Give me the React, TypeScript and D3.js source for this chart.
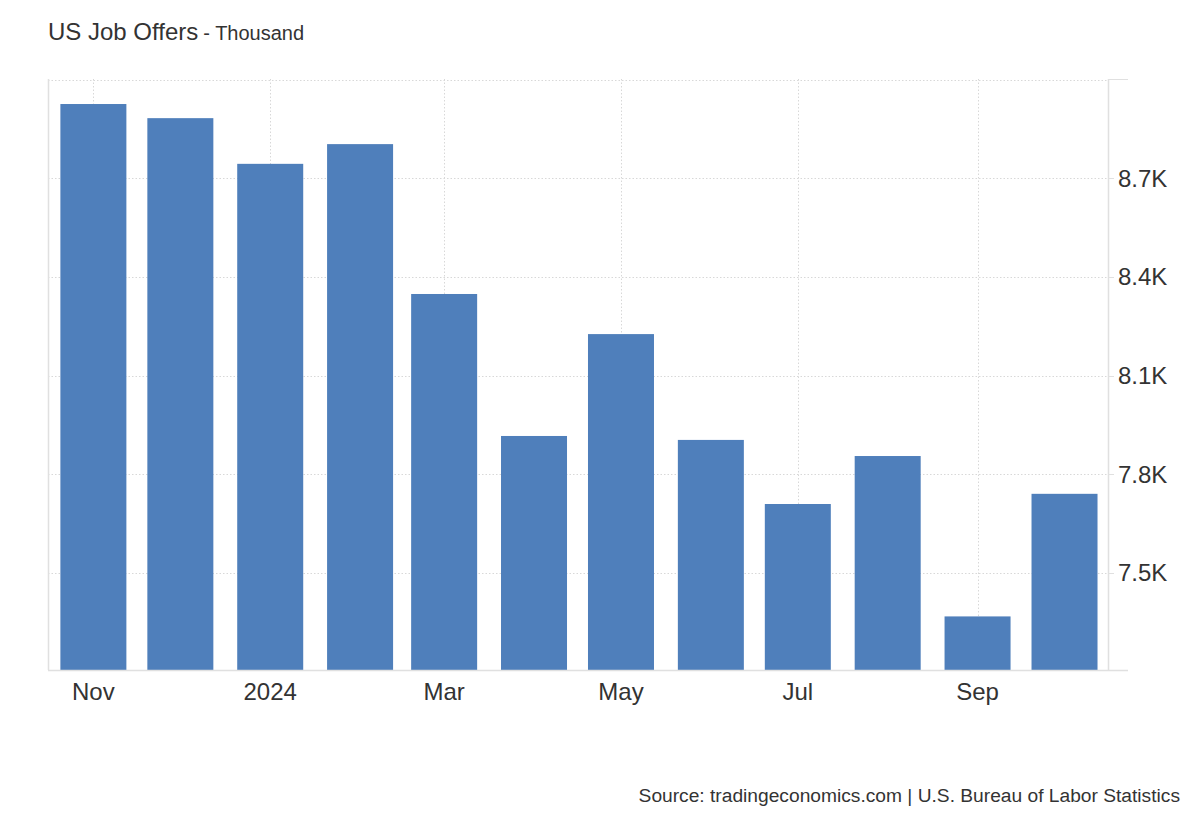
import React from "react";
import * as d3 from "d3";

const months: string[] = [
  "2023-11-01", "2023-12-01", "2024-01-01", "2024-02-01", "2024-03-01", "2024-04-01",
  "2024-05-01", "2024-06-01", "2024-07-01", "2024-08-01", "2024-09-01", "2024-10-01",
];
const values: number[] = [8926, 8883, 8744, 8804, 8348, 7916, 8226, 7904, 7709, 7855, 7367, 7740];
const yTicks: number[] = [7500, 7800, 8100, 8400, 8700];
const yGridTicks: number[] = [7500, 7800, 8100, 8400, 8700, 9000];
const xTickDates: string[] = ["2023-11-01", "2024-01-01", "2024-03-01", "2024-05-01", "2024-07-01", "2024-09-01"];
const xTickLabels: string[] = ["Nov", "2024", "Mar", "May", "Jul", "Sep"];

const parse = (s: string) => {
  const [y, m, d] = s.split("-").map(Number);
  return new Date(y, m - 1, d);
};

export default function App() {
  const W = 1200;
  const H = 820;
  const left = 47;
  const right = 1108;
  const top = 79;
  const bottom = 670;
  const x = d3.scaleTime().domain([new Date(2023, 9, 16), new Date(2024, 9, 16)]).range([left, right]);
  const y = d3.scaleLinear().domain([7200, 9000]).range([671.3, 79.7]);
  const barW = 66;
  const font = "'Liberation Sans', Arial, sans-serif";
  const grid = "#d8d8d8";
  const axis = "#e0e0e0";

  return (
    <svg width={W} height={H} style={{ position: "absolute", left: 0, top: 0, background: "#fff" }} fontFamily={font}>
      <text x={48} y={40} fill="#333" fontSize={24}>
        US Job Offers<tspan fontSize={20} dx={5}>- Thousand</tspan>
      </text>
      {yGridTicks.map((t) => (
        <line key={"hg" + t} x1={48} x2={right} y1={Math.round(y(t)) + 0.5} y2={Math.round(y(t)) + 0.5}
          stroke={grid} strokeDasharray="1.5,2" />
      ))}
      {xTickDates.map((d) => {
        const xx = Math.round(x(parse(d))) + 0.5;
        return <line key={"vg" + d} x1={xx} x2={xx} y1={top} y2={bottom} stroke={grid} strokeDasharray="1.5,2" />;
      })}
      {months.map((m, i) => {
        const cx = x(parse(m));
        return (
          <rect key={m} x={cx - barW / 2} y={y(values[i])} width={barW} height={bottom - y(values[i])} fill="#4f7fbb" />
        );
      })}
      <line x1={48.5} x2={48.5} y1={top} y2={bottom} stroke={axis} strokeWidth={1.5} />
      <line x1={right + 0.5} x2={right + 0.5} y1={top} y2={bottom} stroke={axis} strokeWidth={1.5} />
      <line x1={48} x2={1128} y1={bottom + 0.5} y2={bottom + 0.5} stroke={axis} strokeWidth={1.5} />
      <line x1={right} x2={1128} y1={top + 0.5} y2={top + 0.5} stroke={axis} strokeWidth={1} />
      {yTicks.map((t) => (
        <g key={"yt" + t}>
          <line x1={right} x2={right + 6} y1={Math.round(y(t)) + 0.5} y2={Math.round(y(t)) + 0.5} stroke={axis} />
          <text x={1118} y={y(t)} dy="0.35em" fill="#333" fontSize={24}>
            {d3.format(".1f")(t / 1000) + "K"}
          </text>
        </g>
      ))}
      {xTickDates.map((d, i) => (
        <text key={"xl" + d} x={x(parse(d))} y={700} textAnchor="middle" fill="#333" fontSize={24}>
          {xTickLabels[i]}
        </text>
      ))}
      <text x={1180} y={802} textAnchor="end" fill="#333" fontSize={19.2}>
        Source: tradingeconomics.com | U.S. Bureau of Labor Statistics
      </text>
    </svg>
  );
}
